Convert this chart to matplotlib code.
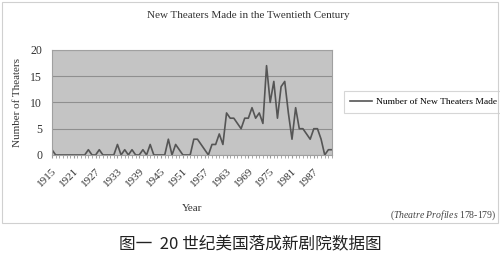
import matplotlib
matplotlib.use('Agg')
import matplotlib.pyplot as plt
from matplotlib.patches import Rectangle

# 每年新建剧院数量 (1915-1992)
years = list(range(1915, 1993))
counts = [1, 0, 0, 0, 0, 0, 0, 0, 0, 0,
          1, 0, 0, 1, 0, 0, 0, 0, 2, 0,
          1, 0, 1, 0, 0, 1, 0, 2, 0, 0,
          0, 0, 3, 0, 2, 1, 0, 0, 0, 3,
          3, 2, 1, 0, 2, 2, 4, 2, 8, 7,
          7, 6, 5, 7, 7, 9, 7, 8, 6, 17,
          10, 14, 7, 13, 14, 8, 3, 9, 5, 5,
          4, 3, 5, 5, 3, 0, 1, 1]
tick_years = list(range(1915, 1993, 6))

plt.rcParams['font.family'] = ['Liberation Serif', 'DejaVu Serif']
plt.rcParams['mathtext.fontset'] = 'custom'
plt.rcParams['mathtext.rm'] = 'Liberation Serif'
plt.rcParams['mathtext.it'] = 'Liberation Serif:italic'

fig = plt.figure(figsize=(5, 2.64), dpi=100)
ax = fig.add_axes([0.104, 0.413, 0.56, 0.398])

ax.set_facecolor('#c4c4c4')
ax.plot(years, counts, color='#555555', lw=1.2, label='Number of New Theaters Made')
ax.set_xlim(1915, 1992)
ax.set_ylim(0, 20)
ax.set_yticks([0, 5, 10, 15, 20])
ax.yaxis.grid(True, color='#8f8f8f', lw=0.8)
ax.set_axisbelow(True)
ax.set_xticks(tick_years)
ax.set_xticks(years, minor=True)
ax.set_xticklabels([str(y) for y in tick_years], rotation=45, ha='right',
                   rotation_mode='anchor', fontsize=8, color='#333333')
ax.tick_params(axis='y', length=0, labelsize=8.5, labelcolor='#333333', pad=7)
ax.tick_params(axis='x', which='both', length=2, color='#999999', pad=6)
for s in ax.spines.values():
    s.set_color('#a0a0a0')
    s.set_linewidth(0.8)

fig.text(0.497, 0.942, 'New Theaters Made in the Twentieth Century',
         ha='center', va='center', fontsize=8, color='#333333')
fig.text(0.036, 0.61, 'Number of Theaters', rotation=90, ha='center',
         va='center', fontsize=8, color='#333333')
fig.text(0.384, 0.212, 'Year', ha='center', va='center', fontsize=8,
         color='#333333')
fig.text(0.992, 0.185, r'($\it{Theatre\ Profiles}$ 178-179)', ha='right',
         va='center', fontsize=7, color='#444444')

leg = ax.legend(loc='center left', bbox_to_anchor=(0.678, 0.613),
                bbox_transform=fig.transFigure, fontsize=6.8, frameon=True,
                fancybox=False, edgecolor='#cccccc', handlelength=2.3,
                handletextpad=0.4, borderpad=0.7)
leg.get_frame().set_linewidth(0.8)

fig.patches.append(Rectangle((0.004, 0.157), 0.992, 0.836, transform=fig.transFigure,
                             fill=False, edgecolor='#d0d0d0', lw=0.8))

fig.text(0.5, 0.072, '图一  20 世纪美国落成新剧院数据图', ha='center', va='center',
         fontsize=12, family=['Noto Sans CJK SC', 'DejaVu Sans'], color='#222222')

fig.savefig('out.png', dpi=100)
